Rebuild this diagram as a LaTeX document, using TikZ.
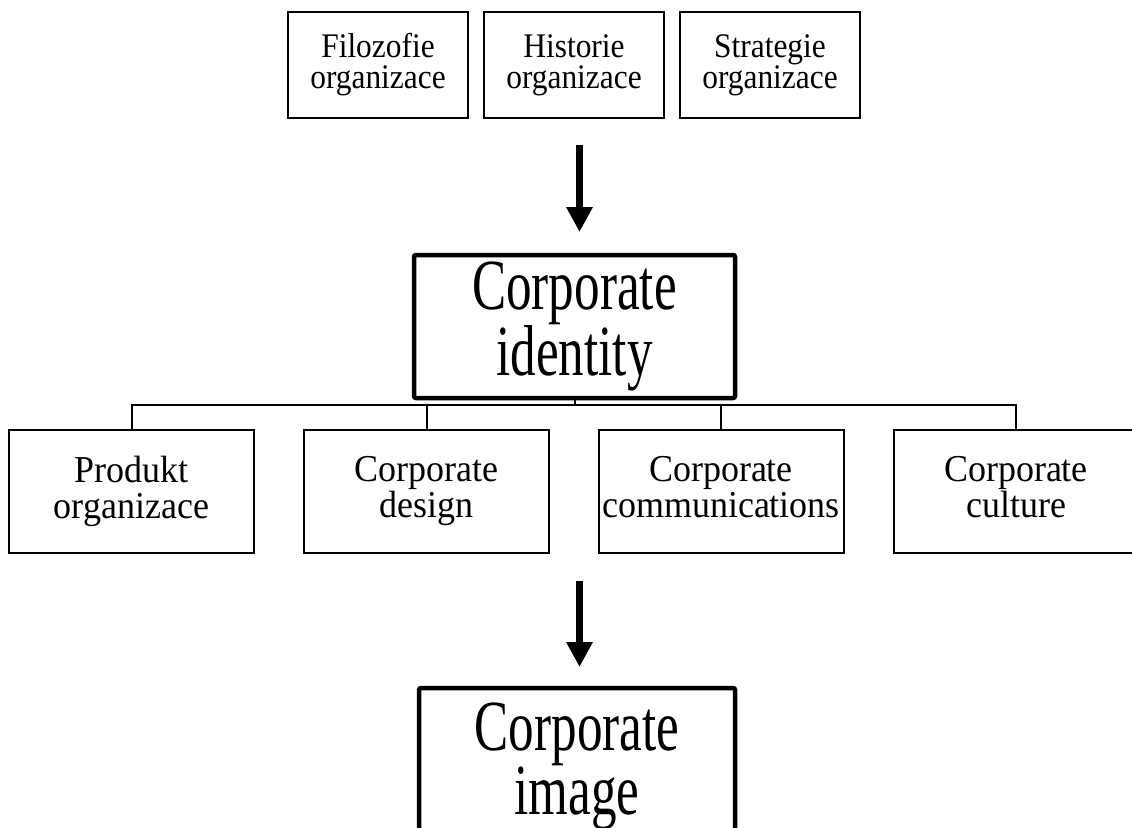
\documentclass[tikz,border=0pt]{standalone}
\usepackage{fontspec}
\setmainfont{Liberation Serif}
% narrowed cuts of the serif face for the taller box labels
\newfontfamily\smallface[FakeStretch=0.91]{Liberation Serif}
\newfontfamily\partface[FakeStretch=0.947]{Liberation Serif}
\newfontfamily\tallface[FakeStretch=0.71]{Liberation Serif}
\usetikzlibrary{arrows.meta}

\tikzset{
  smallbox/.style={draw, line width=2pt, minimum width=180pt, minimum height=106pt,
    inner sep=0pt, align=center, font=\smallface\fontsize{34.5}{31}\selectfont},
  partbox/.style={draw, line width=2pt, minimum width=245pt, minimum height=123pt,
    inner sep=0pt, align=center, font=\partface\fontsize{38}{36}\selectfont},
  mainbox/.style={draw, line width=4.5pt, rounded corners=2pt,
    inner sep=0pt, align=center, font=\tallface\fontsize{72}{60}\selectfont},
  link/.style={line width=2pt},
  bigarrow/.style={line width=7.5pt, -{Triangle[width=25pt,length=25pt]}},
}

\begin{document}
\begin{tikzpicture}[x=1pt,y=-1pt]
  \useasboundingbox (0,0) rectangle (1132,827);
  \clip (0,0) rectangle (1132,827);

  % sources of the identity
  \node[smallbox] (filo) at (378,65) {Filozofie\\organizace};
  \node[smallbox] (hist) at (574,65) {Historie\\organizace};
  \node[smallbox] (strat) at (770,65) {Strategie\\organizace};

  % corporate identity
  \node[mainbox, minimum width=321pt, minimum height=143pt] (ci) at (574.5,326.5) {Corporate\\identity};

  % its components
  \node[partbox] (prod) at (131.5,491.5) {Produkt\\organizace};
  \node[partbox] (design) at (426.5,491.5) {Corporate\\design};
  \node[partbox] (comm) at (721,491.5) {Corporate\\communications\vphantom{g}};
  \node[partbox] (cult) at (1016,491.5) {Corporate\\culture\vphantom{g}};

  % corporate image
  \node[mainbox, minimum width=316pt, minimum height=156pt] (img) at (577,766) {Corporate\\image};

  % tree connectors
  \coordinate (bus) at (574.5,405);
  \draw[link] (ci.south) -- (bus);
  \draw[link] (prod.north) -- (prod.north |- bus) -- (cult.north |- bus) -- (cult.north);
  \draw[link] (design.north) -- (design.north |- bus);
  \draw[link] (comm.north) -- (comm.north |- bus);

  % flow arrows
  \coordinate (a1s) at (579.5,145);
  \coordinate (a1e) at (579.5,232);
  \coordinate (a2s) at (579.5,581);
  \coordinate (a2e) at (579.5,667);
  \draw[bigarrow] (a1s) -- (a1e);
  \draw[bigarrow] (a2s) -- (a2e);
\end{tikzpicture}
\end{document}
